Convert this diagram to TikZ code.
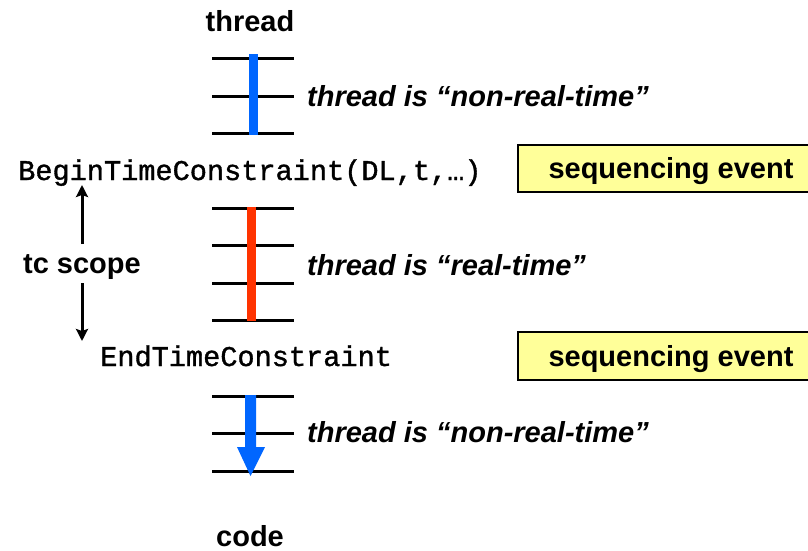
\documentclass[tikz,border=0pt]{standalone}
\usepackage{fontspec}
\setmainfont{Liberation Sans}
\newfontfamily\monofont[FakeBold=1.2]{Liberation Mono}
\usetikzlibrary{arrows.meta}
\definecolor{tblue}{RGB}{0,102,255}
\definecolor{tred}{RGB}{255,51,0}
\definecolor{tyellow}{RGB}{255,255,153}
\tikzset{
  sanslbl/.style={font=\fontsize{29}{31}\selectfont\bfseries, inner sep=0pt, anchor=base},
  itlbl/.style={font=\fontsize{29}{31}\selectfont\bfseries\itshape, inner sep=0pt, anchor=base west},
  codelbl/.style={font=\fontsize{28.6}{30}\selectfont\monofont, inner sep=0pt, anchor=base west},
  rung/.style={line width=3pt},
  evbox/.style={draw=black, line width=2pt, fill=tyellow},
}
\begin{document}
\begin{tikzpicture}[x=1pt,y=-1pt]
\useasboundingbox (0,0) rectangle (808,551);
\clip (0,0) rectangle (808,551);
\fill[white] (0,0) rectangle (808,551);

% header / footer
\node[sanslbl] (thread) at (250,32) {thread};
\node[sanslbl] (code) at (250,546) {code};

% group 1
\foreach \y in {59,96,133} \draw[rung] (212,\y) -- (294,\y);
\fill[tblue] (248.5,54) rectangle (257.5,135);
\node[itlbl] (nrt1) at (307,106) {thread is “non-real-time”};

% begin
\node[codelbl] (begin) at (18,180) {BeginTimeConstraint(DL,t,…)};
\draw[evbox] (518,145) rectangle (815,192);
\node[sanslbl] (seq1) at (671,178) {sequencing event};

% group 2
\foreach \y in {208,245,283,320} \draw[rung] (212,\y) -- (294,\y);
\fill[tred] (247,207) rectangle (255.5,321);
\node[itlbl] (rt) at (307,275) {thread is “real-time”};

% tc scope
\node[sanslbl] (tc) at (82,273) {tc scope};
\coordinate (tctop) at (82,185);
\coordinate (tcbot) at (82,341);
\draw[line width=3pt, -{Stealth[length=12pt,width=12pt,inset=2pt]}] (82,244) -- (tctop);
\draw[line width=3pt, -{Stealth[length=12pt,width=12pt,inset=2pt]}] (82,283) -- (tcbot);

% end
\node[codelbl] (endtc) at (100,366) {EndTimeConstraint};
\draw[evbox] (518,332) rectangle (815,380);
\node[sanslbl] (seq2) at (671,366) {sequencing event};

% group 3
\foreach \y in {396,433,471} \draw[rung] (212,\y) -- (294,\y);
\fill[tblue] (245,395) -- (256,395) -- (256,447) -- (265,447) -- (250.5,476) -- (237,447) -- (245,447) -- cycle;
\node[itlbl] (nrt2) at (307,442) {thread is “non-real-time”};
\end{tikzpicture}
\end{document}
